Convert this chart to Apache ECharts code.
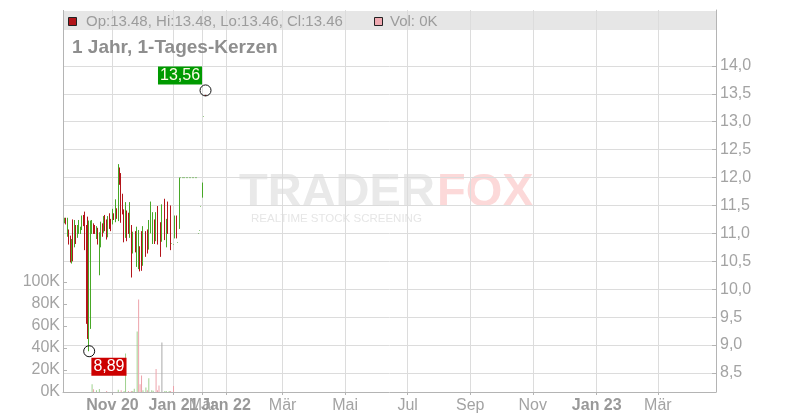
<!DOCTYPE html>
<html>
<head>
<meta charset="utf-8">
<script src="https://cdn.jsdelivr.net/npm/echarts@6/dist/echarts.min.js"></script>
<style>
html,body{margin:0;padding:0;background:#fff;}
#chart{width:800px;height:420px;}
</style>
</head>
<body>
<div id="chart"></div>
<script>
// ---- Data (trading-day slot index on x) ----
const candleSlot  = [1,2,3,4,5,6,7,8,9,10,11,12,13,14,15,16,17,18,19,20,21,22,23,24,25,26,27,28,29,30,31,32,33,34,35,36,37,38,39,40,41,42,43,44,45,46,47,48,50,51,52,53,54,55,57,58,59,60,62,63,64,65,67,68,70,71,72,74,75,76,77,78,79,80,81,82,83,84,85,86,87,88,89,90,91,92,93,94,95,96,97,98];
const candleOpen  = [11.19,11.27,10.95,11.06,10.95,10.47,11.24,10.76,11.14,10.93,11.00,11.00,11.07,11.32,11.38,11.13,11.27,9.10,10.13,11.00,11.17,11.14,10.91,11.09,10.76,10.76,11.17,11.02,11.32,11.24,10.94,11.35,11.25,11.17,11.35,11.21,11.44,11.23,12.17,12.07,11.70,11.42,10.93,11.40,11.36,10.93,11.14,10.65,11.03,10.41,10.37,10.76,11.03,10.43,11.03,11.06,10.72,11.01,10.82,11.24,10.87,11.48,11.19,10.86,11.61,10.76,11.56,11.49,10.81,10.80,10.92,11.31,10.83,11.09,11.99,11.99,11.99,11.99,11.99,11.99,11.99,11.99,11.99,11.99,11.99,11.99,10.99,11.05,11.48,11.65,13.09,13.48];
const candleClose = [11.27,11.17,11.27,10.81,10.49,10.89,10.51,11.23,10.82,11.14,11.23,11.11,11.31,11.14,11.11,9.60,9.40,11.20,11.13,11.23,11.00,11.00,11.12,10.81,11.01,11.20,10.95,11.30,11.05,10.90,11.30,11.09,11.05,11.43,11.25,11.60,11.27,12.20,11.88,11.20,11.35,10.85,11.55,10.87,11.00,11.55,10.22,11.02,10.67,11.11,11.05,10.33,10.34,11.12,10.59,10.65,11.23,11.56,11.37,10.82,11.37,10.81,10.59,11.51,10.89,11.25,11.00,10.71,10.82,10.81,11.31,10.92,10.84,11.99,12.00,12.00,12.00,12.00,12.00,12.00,12.00,12.00,12.00,12.00,12.00,12.00,11.00,11.06,11.49,11.90,13.10,13.46];
const candleLow   = [11.18,11.16,10.94,10.80,10.48,10.46,10.50,10.75,10.81,10.92,10.99,10.99,11.06,11.13,10.70,9.38,9.11,8.89,9.29,10.99,10.99,10.99,10.90,10.80,10.25,10.75,10.94,11.01,11.04,10.89,10.93,11.08,11.04,11.16,11.24,11.20,11.26,11.22,11.87,11.19,11.34,10.84,10.92,10.86,10.99,10.92,10.21,10.64,10.66,10.40,10.36,10.32,10.33,10.42,10.58,10.64,10.71,11.00,10.81,10.81,10.86,10.80,10.58,10.85,10.88,10.75,10.99,10.70,10.81,10.80,10.91,10.91,10.83,11.08,11.99,11.99,11.99,11.99,11.99,11.99,11.99,11.99,11.99,11.99,11.99,11.99,10.99,11.05,11.48,11.64,13.09,13.46];
const candleHigh  = [11.28,11.28,11.28,11.07,10.96,10.90,11.25,11.24,11.15,11.15,11.24,11.12,11.32,11.33,11.39,11.15,11.30,11.23,11.23,11.24,11.18,11.15,11.13,11.10,11.02,11.21,11.18,11.31,11.33,11.25,11.31,11.36,11.26,11.44,11.36,11.61,11.45,12.24,12.18,12.08,11.71,11.43,11.56,11.41,11.37,11.56,11.15,11.03,11.04,11.12,11.06,10.77,11.04,11.13,11.04,11.07,11.24,11.57,11.38,11.25,11.38,11.49,11.20,11.52,11.62,11.26,11.57,11.50,10.82,10.81,11.32,11.32,10.84,12.00,12.00,12.00,12.00,12.00,12.00,12.00,12.00,12.00,12.00,12.00,12.00,12.00,11.00,11.06,11.49,11.91,13.10,13.48];

const volSlot  = [20,21,23,25,30,38,40,42,43,45,47,48,49,51,52,53,54,55,57,58,59,61,62,64,65,66,68,70,71,73,74,76];
const volValue = [7000,2400,1500,2700,1000,2000,1500,1000,35000,1000,1000,1000,3000,55000,84000,7000,15000,1500,4000,1500,12500,1500,1200,21000,1500,6000,45000,1000,1000,1000,1000,5500];
const volDir   = ['up','down','up','up','down','up','down','up','up','down','down','up','up','up','down','down','down','up','up','down','up','up','up','down','down','down','flat','up','up','up','down','down'];

const periodHigh = {slot: 98, value: 13.56};
const periodLow  = {slot: 18, value: 8.89};

const tickSlots  = [34, 76, 96, 112, 151, 194, 237, 280, 323, 367, 409];
const tickLabels = ['Nov 20','Jan 21','Mär','Jan 22','Mär','Mai','Jul','Sep','Nov','Jan 23','Mär'];
const tickBold   = [true, true, false, true, false, false, false, false, false, true, false];
const priceTicks = [8.5, 9.0, 9.5, 10.0, 10.5, 11.0, 11.5, 12.0, 12.5, 13.0, 13.5, 14.0];

const titleText = '1 Jahr, 1-Tages-Kerzen';
const volText = 'Vol: 0K';

// ---- Styles ----
const FONT = '"Liberation Sans", Arial, sans-serif';
const UP = '#47a827', DOWN = '#b3141a';
const VOL_COLORS = {up: '#9fd18f', down: '#eda3ab', flat: '#aaaaaa'};
const GRID_C = '#dcdcdc', AXIS_C = '#b4b4b4', TEXT_C = '#a3a3a3';
const SLOT_MAX = 449;
const PLOT = {left: 63, right: 716, top: 10, bottom: 392};

const candles = candleSlot.map((s, i) => [s, candleOpen[i], candleClose[i], candleLow[i], candleHigh[i]]);
const volumes = volSlot.map((s, i) => ({value: [s, volValue[i]], itemStyle: {color: VOL_COLORS[volDir[i]]}}));
const last = candles.length - 1;
const fmt2 = v => v.toFixed(2);
const headerText = 'Op:' + fmt2(candleOpen[last]) + ', Hi:' + fmt2(candleHigh[last]) +
  ', Lo:' + fmt2(candleLow[last]) + ', Cl:' + fmt2(candleClose[last]);
const comma = v => v.toFixed(2).replace('.', ',');

const chart = echarts.init(document.getElementById('chart'), null, {renderer: 'canvas'});

const xLabelFormatter = v => {
  const i = tickSlots.indexOf(v);
  if (i < 0) return '';
  return (tickBold[i] ? '{b|' : '{n|') + tickLabels[i] + '}';
};

const option = {
  animation: false,
  backgroundColor: '#fff',
  textStyle: {fontFamily: FONT},
  grid: [
    {left: PLOT.left, right: 800 - PLOT.right, top: PLOT.top, bottom: 420 - PLOT.bottom, containLabel: false},
    {left: PLOT.left, right: 800 - PLOT.right, top: 282, bottom: 420 - PLOT.bottom, containLabel: false}
  ],
  xAxis: [
    {
      type: 'value', gridIndex: 0, min: 0, max: SLOT_MAX,
      axisLine: {show: true, onZero: false, lineStyle: {color: AXIS_C}},
      axisTick: {show: true, length: 3, customValues: tickSlots, lineStyle: {color: AXIS_C}},
      axisLabel: {
        show: true, customValues: tickSlots, margin: 6, formatter: xLabelFormatter,
        rich: {
          b: {fontFamily: FONT, fontSize: 16, fontWeight: 'bold', color: '#999999'},
          n: {fontFamily: FONT, fontSize: 16, color: TEXT_C}
        }
      },
      splitLine: {show: true, lineStyle: {color: GRID_C, width: 1}}
    },
    {
      type: 'value', gridIndex: 1, min: 0, max: SLOT_MAX, show: false,
      axisLine: {onZero: false},
      splitLine: {show: false}
    }
  ],
  yAxis: [
    {
      type: 'value', gridIndex: 0, position: 'right', min: 8.16, max: 15.0,
      axisLine: {show: true, onZero: false, lineStyle: {color: AXIS_C}},
      axisTick: {show: true, inside: true, length: 4, customValues: priceTicks, lineStyle: {color: AXIS_C}},
      axisLabel: {
        show: true, customValues: priceTicks, margin: 4, fontFamily: FONT, fontSize: 16, color: TEXT_C,
        formatter: v => v.toFixed(1).replace('.', ',')
      },
      splitLine: {show: true, lineStyle: {color: GRID_C, width: 1}}
    },
    {
      type: 'value', gridIndex: 1, position: 'left', min: 0, max: 100000, interval: 20000,
      axisLine: {show: true, onZero: false, lineStyle: {color: AXIS_C}},
      axisTick: {show: true, inside: true, length: 4, lineStyle: {color: AXIS_C}},
      axisLabel: {
        show: true, margin: 3, fontFamily: FONT, fontSize: 16, color: TEXT_C,
        formatter: v => Math.round(v / 1000) + 'K'
      },
      splitLine: {show: false}
    }
  ],
  graphic: [
    {type: 'rect', z: -5, silent: true, shape: {x: PLOT.left, y: 11, width: PLOT.right - PLOT.left, height: 19}, style: {fill: '#e6e6e6'}},
    {type: 'line', z: 10, silent: true, shape: {x1: PLOT.left + 0.5, y1: PLOT.top, x2: PLOT.left + 0.5, y2: PLOT.bottom}, style: {stroke: AXIS_C, lineWidth: 1}},
    {type: 'rect', z: 10, silent: true, shape: {x: 68.5, y: 17.5, width: 8, height: 8}, style: {fill: '#b3151a', stroke: '#222', lineWidth: 1}},
    {type: 'text', z: 10, silent: true, x: 86, y: 21.5, style: {text: headerText, font: '15px ' + FONT, fill: '#9c9c9c', verticalAlign: 'middle'}},
    {type: 'rect', z: 10, silent: true, shape: {x: 374.5, y: 17.5, width: 8, height: 8}, style: {fill: '#efa9b1', stroke: '#222', lineWidth: 1}},
    {type: 'text', z: 10, silent: true, x: 390, y: 21.5, style: {text: volText, font: '15px ' + FONT, fill: '#9c9c9c', verticalAlign: 'middle'}},
    {type: 'text', z: 10, silent: true, x: 72, y: 48, style: {text: titleText, font: 'bold 19px ' + FONT, fill: '#8e8e8e', verticalAlign: 'middle'}},
    {type: 'text', z: -5, silent: true, x: 239, y: 193, style: {text: 'TRADER', font: 'bold 47px ' + FONT, fill: '#e9e9e9', verticalAlign: 'middle'}},
    {type: 'text', z: -5, silent: true, x: 437, y: 193, style: {text: 'FOX', font: 'bold 47px ' + FONT, fill: '#fcd9d9', verticalAlign: 'middle'}},
    {type: 'text', z: -5, silent: true, x: 251, y: 219, style: {text: 'REALTIME STOCK SCREENING', font: '11.5px ' + FONT, fill: '#e6e6e6', verticalAlign: 'middle'}}
  ],
  series: [
    {
      type: 'candlestick', name: 'Kurs', xAxisIndex: 0, yAxisIndex: 0,
      barWidth: 1.2, encode: {x: 0, y: [1, 2, 3, 4]},
      itemStyle: {color: UP, color0: DOWN, borderColor: UP, borderColor0: DOWN, borderColorDoji: UP, borderWidth: 1, opacity: 1},
      data: candles, z: 3
    },
    {
      type: 'bar', name: 'Vol', xAxisIndex: 1, yAxisIndex: 1,
      barWidth: 1, data: volumes, z: 2
    },
    {
      type: 'scatter', xAxisIndex: 0, yAxisIndex: 0, symbol: 'circle', symbolSize: 11, z: 5,
      itemStyle: {color: 'rgba(0,0,0,0)', borderColor: '#111', borderWidth: 1, opacity: 1},
      data: [
        {value: [periodHigh.slot, periodHigh.value], label: {show: true, formatter: comma(periodHigh.value), position: [2.5, 0], align: 'right', verticalAlign: 'bottom', backgroundColor: '#009a00', color: '#fffbe6', fontFamily: FONT, fontSize: 16, padding: [1, 2, 1, 2]}},
        {value: [periodLow.slot, periodLow.value], label: {show: true, formatter: comma(periodLow.value), position: [8.2, 12.5], align: 'left', verticalAlign: 'top', backgroundColor: '#cc0000', color: '#fff', fontFamily: FONT, fontSize: 16, padding: [1, 2, 1, 2]}}
      ]
    }
  ]
};
chart.setOption(option);
</script>
</body>
</html>
